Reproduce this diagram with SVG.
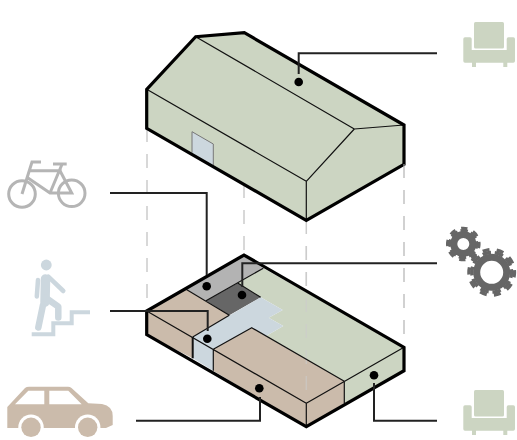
<svg xmlns="http://www.w3.org/2000/svg" width="517" height="440" viewBox="0 0 517 440">
<style>
.green{fill:#ccd5c2}.blue{fill:#ccd7de}.tan{fill:#cbbbab}.grey{fill:#b3b3b3}.dark{fill:#666}
.thin{fill:none;stroke:#111;stroke-width:1.200;stroke-linejoin:round}
.thick{fill:none;stroke:#000;stroke-width:3.200;stroke-linejoin:miter}
.guide{fill:none;stroke:#ccc;stroke-width:1.500;stroke-dasharray:14 12}
.leader{fill:none;stroke:#222;stroke-width:2}
.dot{fill:#000}
.gear{fill:none;stroke:#666}
.bike{fill:none;stroke:#b5b5b5;stroke-width:3}
.walk{fill:none;stroke:#ccd7de;stroke-linecap:round;stroke-linejoin:round}
</style>
<defs>
<g id="chair">
<rect x="474" y="22" width="30" height="26.500" rx="1.500" class="green"/>
<path d="M465 37.300H470Q471.700 37.300 471.700 39V50H506.700V39Q506.700 37.300 508.400 37.300H513.300Q515 37.300 515 39V61Q515 62.700 513.300 62.700H465Q463.300 62.700 463.300 61V39Q463.300 37.300 465 37.300Z M472 62.700H476V67H472Z M503.300 62.700H507.300V67H503.300Z" class="green"/>
</g>
</defs>
<g id="guides">
<path class="guide" d="M147 128V311M244 184V255M306.300 220V425M404 164V347"/>
</g>
<g id="upper-building">
<path class="green" d="M195.700 36.700L244.300 32.700L404 125V164.300L306.300 220.300L146.700 128.300V89.300Z"/>
<path class="blue" d="M192 131.700L213.300 144V165.300L192 152.700Z"/>
<path d="M192 152.700V131.700L213.300 144V165.300" fill="none" stroke="#777" stroke-width="1"/>
<path class="thin" d="M195.700 36.700L354.300 129L306.300 181.300L146.700 89.300M354.300 129L404 125M306.300 181.300V220.300"/>
<path class="thick" d="M146.700 128.300V89.300L195.700 36.700L244.300 32.700L404 125V164.300L306.300 220.300Z"/>
</g>
<g id="lower-building">
<path class="tan" d="M146.700 311L186 289.300L229.300 315.300L192.700 337V358.300L146.700 334.700Z"/>
<path class="tan" d="M213.300 349.300L251.700 327.700L344.300 381.300V403.300L306.300 426.700L213.300 370.700Z"/>
<path class="green" d="M263.300 268.300L404 347.300V370.700L344.300 403.300V381.300L266 336L283.300 326L268.700 317.700L282.700 310L260.700 297.300L237.700 283Z"/>
<path class="grey" d="M186 289.300L244 255L263.300 268.300L206 300.700Z"/>
<path class="dark" d="M237.700 283L260.700 297.300L229.300 315.300L206 300.700Z"/>
<path class="blue" d="M260.700 297.300L282.700 310L268.700 317.700L283.300 326L266 336L251.700 327.700L213.300 349.300V370.700L192.700 358.300V337Z"/>
<path d="M306.300 246V400M404 164V345" fill="none" stroke="#ccc" stroke-opacity=".6" stroke-width="1.500" stroke-dasharray="14 12"/>
<path class="thin" d="M146.700 311L306.300 403.300L404 347.300M306.300 403.300V426.700M344.300 381.300V403.300M186 289.300L229.300 315.300M206 300.700L263.300 268.300M213.300 349.300L251.700 327.700L344.300 381.300M213.300 349.300V370.700"/>
<path fill="none" stroke="#111" stroke-width="1.200" d="M237.700 283L260.700 297.300M229.300 315.300L192.700 337"/>
<path fill="none" stroke="#111" stroke-width="2" d="M192.700 337V358.300"/>
<path class="thick" d="M146.700 334.700V311L244 255L404 347.300V370.700L306.300 426.700Z"/>
</g>
<g id="connectors">
<path class="leader" d="M437 53.300H298.700V74"/>
<circle class="dot" cx="298.700" cy="82" r="4.300"/>
<path class="leader" d="M110 193H206.700V275"/>
<circle class="dot" cx="206.700" cy="286.300" r="4.300"/>
<path class="leader" d="M110 311H207.700V331"/>
<circle class="dot" cx="207.300" cy="338.700" r="4.300"/>
<path class="leader" d="M437 263.300H242.300V287"/>
<circle class="dot" cx="242" cy="295" r="4.300"/>
<path class="leader" d="M136 420.700H260V397"/>
<circle class="dot" cx="259.300" cy="388.300" r="4.300"/>
<path class="leader" d="M437 420.700H374V383"/>
<circle class="dot" cx="374" cy="375.300" r="4.300"/>
</g>
<g id="chair-top"><use href="#chair"/></g>
<g id="chair-bottom"><use href="#chair" y="368"/></g>
<g id="gears">
<circle class="gear" cx="463.300" cy="244" r="9.500" stroke-width="7"/>
<circle class="gear" cx="463.300" cy="244" r="13.500" stroke-width="3" pathLength="80" stroke-dasharray="7 3" transform="rotate(-12 463.300 244)"/>
<circle class="gear" cx="463.300" cy="244" r="15.800" stroke-width="3" pathLength="80" stroke-dasharray="5 5" stroke-dashoffset="-1" transform="rotate(-12 463.300 244)"/>
<circle class="gear" cx="491.700" cy="272.300" r="15" stroke-width="7"/>
<circle class="gear" cx="491.700" cy="272.300" r="19.800" stroke-width="3.500" pathLength="100" stroke-dasharray="7 3" transform="rotate(-9 491.700 272.300)"/>
<circle class="gear" cx="491.700" cy="272.300" r="22.700" stroke-width="3.500" pathLength="100" stroke-dasharray="5 5" stroke-dashoffset="-1" transform="rotate(-9 491.700 272.300)"/>
</g>
<g id="bike">
<circle class="bike" cx="22" cy="194" r="13.300"/>
<circle class="bike" cx="71.700" cy="193.300" r="13.300"/>
<path class="bike" d="M41 162H32L22 194M30 170.700H61.700M28 178L50 193H71.700L60 170.700M61.700 165L50 193M53 164H66.700"/>
</g>
<g id="walker">
<circle cx="46.300" cy="265" r="5.400" fill="#ccd7de"/>
<path class="walk" stroke-width="9.500" d="M45.500 279L45 302"/>
<path class="walk" stroke-width="4.500" d="M38 280L36.800 296.500M48.300 276.700L63.300 291"/>
<path class="walk" stroke-width="6.500" d="M46 298L58.300 306.700V317.500M43 305L38.300 327.500"/>
<path fill="none" stroke="#ccd7de" stroke-width="4" d="M31.700 334.300H53.300V323.300H71.700V312.300H90"/>
</g>
<g id="car">
<path class="tan" d="M7.300 407L25 388Q26.500 386.700 29 386.700H68Q70 386.700 71.500 388L88.300 403.300L102 404Q112.700 406 112.700 416V425L106 428H7.300Z"/>
<path fill="#fff" d="M15 404.300L28.300 390.700H44.300V404.300Z M49.300 390.700H68.300L81.700 404.300H49.300Z"/>
<circle cx="31" cy="427.300" r="12.700" fill="#fff"/>
<circle cx="87.700" cy="427.300" r="12.700" fill="#fff"/>
<circle cx="31" cy="427.300" r="9.700" class="tan"/>
<circle cx="87.700" cy="427.300" r="9.700" class="tan"/>
</g>
</svg>
